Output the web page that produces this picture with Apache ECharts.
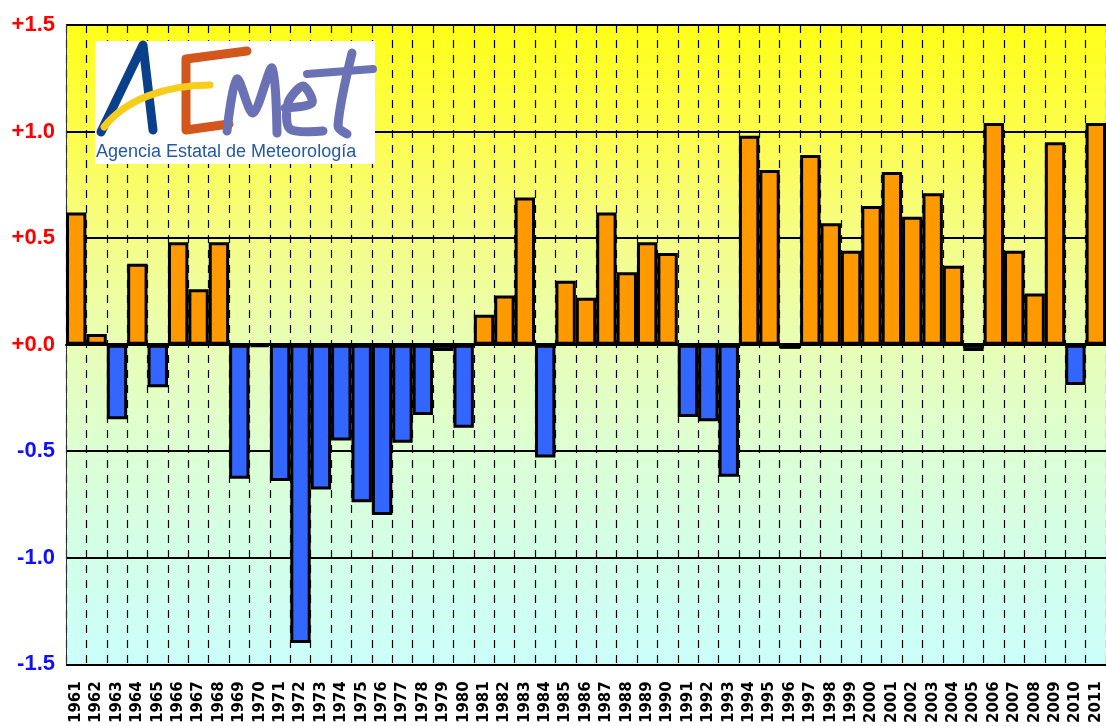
<!DOCTYPE html>
<html>
<head>
<meta charset="utf-8">
<script src="https://cdn.jsdelivr.net/npm/echarts@6/dist/echarts.min.js"></script>
<style>
html,body{margin:0;padding:0;background:#fff;}
#chart{width:1106px;height:726px;}
</style>
</head>
<body>
<div id="chart"></div>
<script>
var years = ['1961','1962','1963','1964','1965','1966','1967','1968','1969','1970',
  '1971','1972','1973','1974','1975','1976','1977','1978','1979','1980',
  '1981','1982','1983','1984','1985','1986','1987','1988','1989','1990',
  '1991','1992','1993','1994','1995','1996','1997','1998','1999','2000',
  '2001','2002','2003','2004','2005','2006','2007','2008','2009','2010','2011'];
var anomalies = [0.62,0.05,-0.35,0.38,-0.20,0.48,0.26,0.48,-0.63,-0.01,
  -0.64,-1.40,-0.68,-0.45,-0.74,-0.80,-0.46,-0.33,-0.03,-0.39,
  0.14,0.23,0.69,-0.53,0.30,0.22,0.62,0.34,0.48,0.43,
  -0.34,-0.36,-0.62,0.98,0.82,-0.02,0.89,0.57,0.44,0.65,
  0.81,0.60,0.71,0.37,-0.03,1.04,0.44,0.24,0.95,-0.19,1.04];
var yTicks = [-1.5,-1.0,-0.5,0.0,0.5,1.0,1.5];
var logoTitle = 'Agencia Estatal de Meteorología';

var chart = echarts.init(document.getElementById('chart'));
var brush = function (pts, color, w) {
  return {type: 'polyline', z: 11, shape: {points: pts, smooth: 0.3},
    style: {stroke: color, lineWidth: w || 9, fill: null, lineCap: 'round', lineJoin: 'round'}};
};
var option = {
  animation: false,
  backgroundColor: '#ffffff',
  grid: {
    left: 66, right: -10, top: 25, bottom: 61,
    show: true, borderWidth: 0,
    backgroundColor: {
      type: 'linear', x: 0, y: 0, x2: 0, y2: 1,
      colorStops: [
        {offset: 0, color: '#ffff18'},
        {offset: 0.17, color: '#fdfd4c'},
        {offset: 0.33, color: '#f5fd86'},
        {offset: 0.5, color: '#e8feb6'},
        {offset: 0.67, color: '#dcffd4'},
        {offset: 0.83, color: '#d3ffe9'},
        {offset: 1, color: '#ccfffb'}
      ]
    }
  },
  xAxis: {
    type: 'category',
    data: years,
    boundaryGap: true,
    axisLine: {show: true, lineStyle: {color: '#000', width: 2}},
    axisTick: {show: false},
    splitLine: {show: true, interval: 0, lineStyle: {color: '#000', width: 1.2, type: [8, 7]}},
    axisLabel: {
      interval: 0, rotate: 90, margin: 17,
      fontFamily: 'DejaVu Sans', fontWeight: 'bold', fontSize: 15, color: '#000'
    }
  },
  yAxis: {
    type: 'value',
    min: -1.5, max: 1.5, interval: 0.5,
    axisLine: {show: true, lineStyle: {color: '#333', width: 1}},
    axisTick: {show: false},
    splitLine: {show: true, lineStyle: {color: '#000', width: 2}},
    axisLabel: {
      margin: 11,
      formatter: function (v) {
        var s = (v >= 0 ? '+' : '-') + Math.abs(v).toFixed(1);
        return v >= 0 ? '{p|' + s + '}' : '{n|' + s + '}';
      },
      rich: {
        p: {color: '#ff0000', fontFamily: 'Liberation Sans', fontWeight: 'bold', fontSize: 22},
        n: {color: '#1010ff', fontFamily: 'Liberation Sans', fontWeight: 'bold', fontSize: 22}
      }
    }
  },
  series: [{
    type: 'bar',
    data: anomalies,
    barWidth: '100%',
    barCategoryGap: '0%',
    itemStyle: {
      color: function (p) { return p.value >= 0 ? '#ff9900' : '#3366ff'; },
      borderColor: '#000',
      borderWidth: 3
    },
    markLine: {
      silent: true, symbol: 'none', label: {show: false},
      lineStyle: {color: '#000', width: 3, type: 'solid'},
      data: [{yAxis: 0}]
    }
  }],
  graphic: [
    {type: 'rect', z: 10, shape: {x: 95, y: 41, width: 280, height: 123}, style: {fill: '#ffffff'}},
    {type: 'polyline', z: 11, shape: {points: [[101, 132], [143, 45], [153, 130]]},
      style: {stroke: '#0a3f8c', lineWidth: 9, fill: null, lineCap: 'round', lineJoin: 'round'}},
    {type: 'bezierCurve', z: 12, shape: {x1: 104, y1: 127, cpx1: 125, cpy1: 100, cpx2: 165, cpy2: 85, x2: 210, y2: 85},
      style: {stroke: '#f6cd1b', lineWidth: 7, fill: null, lineCap: 'round'}},
    {type: 'polyline', z: 11, shape: {points: [[247, 51], [186, 59], [186, 130], [229, 124]]},
      style: {stroke: '#d3561c', lineWidth: 9, fill: null, lineCap: 'round', lineJoin: 'round'}},
    brush([[227, 131], [237, 79], [253, 113], [272, 68], [277, 133]], '#6a72b5'),
    brush([[285, 108], [312, 103], [303, 86], [288, 103], [290, 129], [323, 131]], '#6a72b5'),
    brush([[352, 53], [338, 126], [347, 134]], '#6a72b5'),
    brush([[307, 74], [373, 69]], '#6a72b5', 8),
    {type: 'text', z: 11, x: 96, y: 143,
      style: {text: logoTitle, fill: '#2458a6', font: '18px "Liberation Sans"', textVerticalAlign: 'top'}}
  ]
};
chart.setOption(option);
</script>
</body>
</html>
